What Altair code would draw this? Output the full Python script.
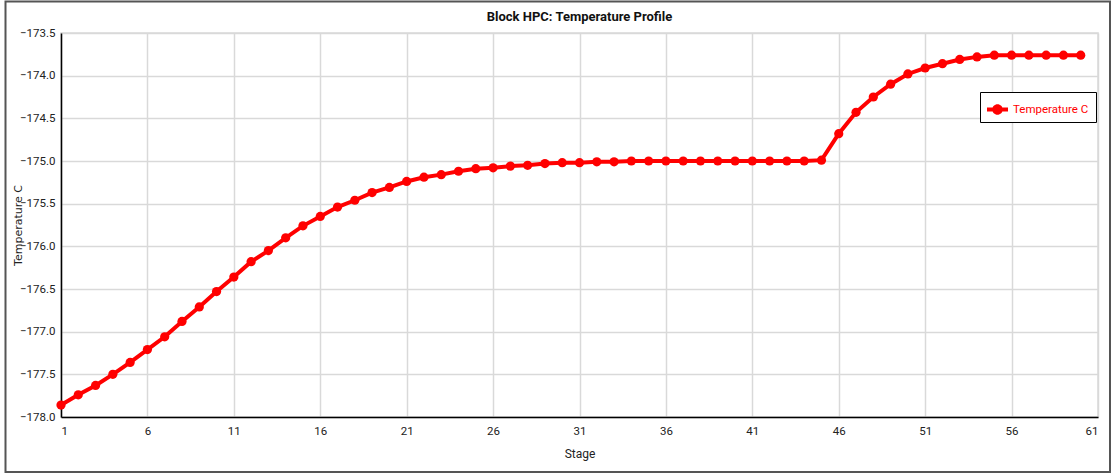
import altair as alt
import pandas as pd

# Data
temps = [
    -177.86, -177.74, -177.63, -177.50, -177.36, -177.21, -177.06, -176.88, -176.71, -176.53,
    -176.36, -176.18, -176.05, -175.90, -175.76, -175.65, -175.54, -175.46, -175.37, -175.31,
    -175.24, -175.19, -175.16, -175.12, -175.09, -175.08, -175.06, -175.05, -175.03, -175.02,
    -175.02, -175.01, -175.01, -175.00, -175.00, -175.00, -175.00, -175.00, -175.00, -175.00,
    -175.00, -175.00, -175.00, -175.00, -174.99, -174.68, -174.43, -174.25, -174.10, -173.98,
    -173.91, -173.86, -173.81, -173.78, -173.76, -173.76, -173.76, -173.76, -173.76, -173.76,
]
stages = list(range(1, len(temps) + 1))
series_name = "Temperature C"
x_ticks = [1, 6, 11, 16, 21, 26, 31, 36, 41, 46, 51, 56, 61]
y_ticks = [-178.0, -177.5, -177.0, -176.5, -176.0, -175.5, -175.0, -174.5, -174.0, -173.5]

df = pd.DataFrame({"Stage": stages, "Temp": temps, "series": [series_name] * len(temps)})

FONT = "Roboto, Noto Sans, sans-serif"
RED = "#ff0000"

x_enc = alt.X(
    "Stage:Q",
    scale=alt.Scale(domain=[1, 61], nice=False, zero=False),
    axis=alt.Axis(values=x_ticks, title="Stage", format="d", tickSize=0,
                  labelPadding=8, titlePadding=12),
)
y_enc = alt.Y(
    "Temp:Q",
    scale=alt.Scale(domain=[-178.0, -173.5], nice=False, zero=False),
    axis=alt.Axis(values=y_ticks, title="Temperature C", format=".1f", tickSize=0,
                  labelPadding=6, titleX=-43, titleY=192, titleAngle=-90,
                  titleAlign="center", titleBaseline="middle"),
)

line = alt.Chart(df).mark_line(color=RED, strokeWidth=4).encode(x=x_enc, y=y_enc)

points = alt.Chart(df).mark_point(filled=True, size=85, opacity=1, shape="circle").encode(
    x="Stage:Q",
    y="Temp:Q",
    color=alt.Color(
        "series:N",
        scale=alt.Scale(domain=[series_name], range=[RED]),
        legend=alt.Legend(
            title=None,
            orient="none",
            legendX=919,
            legendY=59,
            strokeColor="black",
            fillColor="white",
            padding=7,
            labelColor=RED,
            labelFont=FONT,
            labelFontSize=11.5,
            labelOffset=5,
            symbolType="M-1,-0.2H1V0.2H-1Z M-0.5,0 A0.5,0.5 0 1,1 0.5,0 A0.5,0.5 0 1,1 -0.5,0Z",
            symbolSize=441,
            symbolFillColor=RED,
            symbolStrokeColor=RED,
            symbolStrokeWidth=0,
            symbolOpacity=1,
        ),
    ),
)

frame_df = pd.DataFrame({"k": [0]})
frame = alt.Chart(frame_df).mark_rect(fill="transparent", stroke="#555555", strokeWidth=2).encode(
    x=alt.value(5.5 - 61), x2=alt.value(1110 - 61),
    y=alt.value(1.5 - 33), y2=alt.value(472 - 33),
)

chart = alt.layer(frame, line, points).properties(
    width=1037,
    height=384,
    title=alt.Title("Block HPC: Temperature Profile", anchor="middle", fontSize=13,
                    fontWeight="bold", font=FONT, offset=8, dy=31, color="#111111"),
    autosize=alt.AutoSizeParams(type="none"),
    padding={"left": 61, "top": 33, "right": 15, "bottom": 57},
).configure_view(
    stroke="#d9d9d9", strokeWidth=1.5
).configure_axis(
    labelFont=FONT, labelFontSize=11.5, labelColor="#222222",
    titleFont=FONT, titleFontSize=12, titleFontWeight="normal", titleColor="#222222",
    gridColor="#d9d9d9", gridWidth=1.5, gridOpacity=1,
    domainColor="black", domainWidth=1.5,
).configure_axisY(
    titleFont="DejaVu Sans", titleFontSize=11,
)

chart.save("out.html", embed_options={"renderer": "svg", "actions": False})
